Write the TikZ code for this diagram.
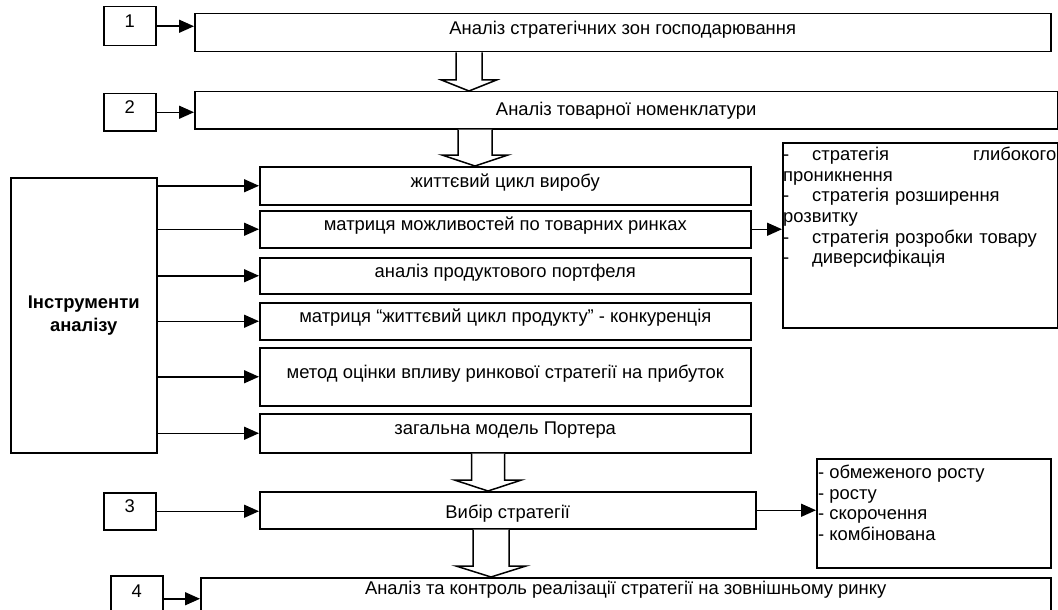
\documentclass[tikz,border=0pt]{standalone}
\usepackage{fontspec}
\setmainfont{Liberation Sans}
\usetikzlibrary{positioning, calc, arrows.meta}

\tikzset{
	box/.style={draw, line width=1.5pt, inner sep=0pt, text height=13pt, text depth=10pt},
	link/.style={line width=1.5pt, -{Triangle[length=15pt, width=13pt]}},
	hollow/.style={line width=1.5pt, fill=white}
}

% hollow arrow: x centre, shaft half width, head half width, upper node, lower node
\newcommand{\hollowarrow}[5]{%
	\draw[hollow] ($(#1,0 |- #4.south)+(-#2,0)$) -- ($(#1,0 |- #5.north)+(-#2,-11)$)
		-- ($(#1,0 |- #5.north)+(-#3,-11)$) -- (#1,0 |- #5.north)
		-- ($(#1,0 |- #5.north)+(#3,-11)$) -- ($(#1,0 |- #5.north)+(#2,-11)$)
		-- ($(#1,0 |- #4.south)+(#2,0)$);}

\begin{document}
\begin{tikzpicture}[x=1pt, y=-1pt, font=\fontsize{18.4}{20.6}\selectfont]
	\useasboundingbox (0,0) rectangle (1058,610);
	\clip (0,0) rectangle (1058,610);

	% numbers
	\node[box, anchor=north west, minimum width=52, minimum height=39] (n1) at (103,6) {1};
	\node[box, anchor=north west, minimum width=52, minimum height=37] (n2) at (103,93) {2};
	\node[box, anchor=north west, minimum width=52, minimum height=37] (n3) at (103,492) {3};
	\node[box, anchor=north west, minimum width=52, minimum height=50, text depth=20pt] (n4) at (110,575) {4};

	% main steps
	\node[box, anchor=north west, minimum width=856, minimum height=38] (a1) at (194,13) {Аналіз стратегічних зон господарювання};
	\node[box, anchor=north west, minimum width=863, minimum height=37, text height=20pt] (a2) at (194,91) {Аналіз товарної номенклатури};
	\node[box, anchor=north west, minimum width=496, minimum height=37, text height=26pt] (vybir) at (259,491) {Вибір стратегії};
	\node[box, anchor=north west, minimum width=850, minimum height=48, text depth=27pt] (kontrol) at (200,577) {Аналіз та контроль реалізації стратегії на зовнішньому ринку};

	% tools
	\node[box, anchor=north west, minimum width=146, minimum height=275, text height=, text depth=, align=center, font=\fontsize{18.4}{23}\selectfont\bfseries] (tools) at (10,177) {Інструменти\\аналізу};
	\foreach \name/\top/\bot/\txt in {
		t1/166/204/{життєвий цикл виробу},
		t2/210/247/{матриця можливостей по товарних ринках},
		t3/257/293/{аналіз продуктового портфеля},
		t4/302/339/{матриця “життєвий цикл продукту” - конкуренція},
		t5/347/405/{метод оцінки впливу ринкової стратегії на прибуток},
		t6/413/452/{загальна модель Портера}}
	{
		\node[box, anchor=north west, minimum width=491, minimum height=\bot-\top] (\name) at (259,\top) {\txt};
		\draw[link] (tools.east |- \name.west) -- (\name.west);
	}

	% strategies
	\node[box, anchor=north west, minimum width=275, minimum height=185] (r1) at (782,142) {};
	\node[anchor=north west, text width=273, align=left, inner sep=0pt] (r1txt) at ($(r1.north west)+(1,5)$)
		{\makebox[29pt][l]{-}стратегія\hfill глибокого\\
		проникнення\\
		\makebox[29pt][l]{-}стратегія розширення\\
		розвитку\\
		\makebox[29pt][l]{-}стратегія розробки товару\\
		\makebox[29pt][l]{-}диверсифікація};
	\node[box, anchor=north west, minimum width=234, minimum height=109] (r2) at (816,458) {};
	\node[anchor=north west, align=left, inner sep=0pt] (r2txt) at ($(r2.north west)+(2,7)$)
		{- обмеженого росту\\
		- росту\\
		- скорочення\\
		- комбінована};

	% links
	\draw[link] (n1.east) -- (n1.east -| a1.west);
	\draw[link] (n2.east) -- (n2.east -| a2.west);
	\draw[link] (n3.east) -- (n3.east -| vybir.west);
	\draw[link] ($(n4.east)+(0,-2)$) -- ($(n4.east -| kontrol.west)+(0,-2)$);
	\draw[link] (t2.east) -- (t2.east -| r1.west);
	\draw[link] (vybir.east) -- (vybir.east -| r2.west);

	\hollowarrow{469}{13}{27.5}{a1}{a2}
	\hollowarrow{475}{17}{33}{a2}{t1}
	\hollowarrow{488}{16.5}{33.5}{t6}{vybir}
	\hollowarrow{491}{18}{35}{vybir}{kontrol}
\end{tikzpicture}
\end{document}
